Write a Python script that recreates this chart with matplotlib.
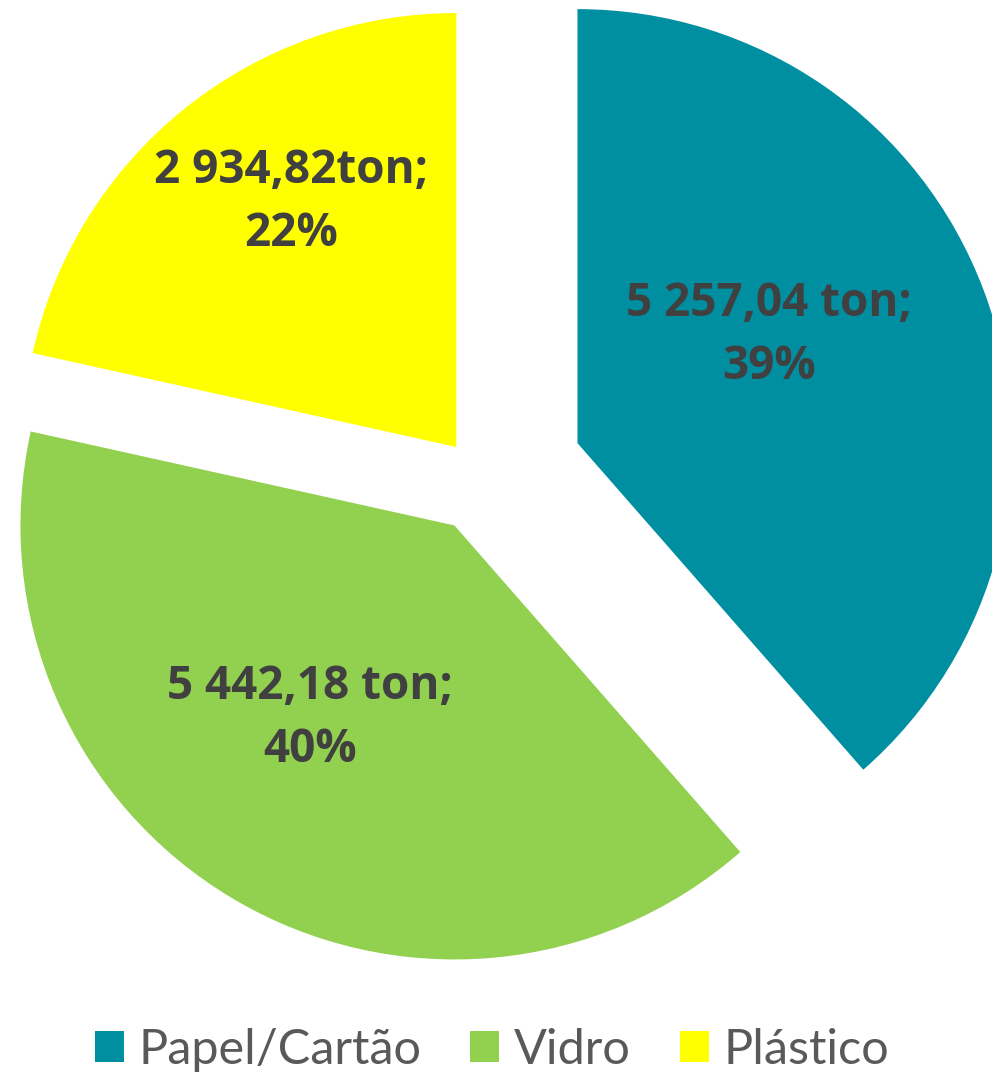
import numpy as np
import matplotlib.pyplot as plt
from matplotlib.patches import Patch

# dados
categorias = ["Papel/Cartão", "Vidro", "Plástico"]
toneladas = [5257.04, 5442.18, 2934.82]
rotulos_ton = ["5 257,04 ton;", "5 442,18 ton;", "2 934,82ton;"]
percentagens = ["39%", "40%", "22%"]

cores = ["#008FA1", "#92D050", "#FFFF00"]
explode = [102, 54, 41]  # em pixeis (unidades de dados)
# ajuste do rotulo: (fracao do raio, desvio do angulo em graus)
pos_rotulos = [(0.507, 8.8), (0.555, -6.2), (0.68, -4.8)]

W, H = 992, 1074
fig = plt.figure(figsize=(W / 100, H / 100), dpi=100)
ax = fig.add_axes([0, 0, 1, 1])

R = 434
wedges, _ = ax.pie(toneladas, colors=cores, startangle=90, counterclock=False,
                   radius=R, center=(482, H - 479), explode=explode,
                   wedgeprops=dict(linewidth=0))
ax.set_xlim(0, W)
ax.set_ylim(0, H)
ax.set_aspect("equal")
ax.axis("off")

for w, t, p, (frac, da) in zip(wedges, rotulos_ton, percentagens, pos_rotulos):
    ang = np.deg2rad((w.theta1 + w.theta2) / 2 + da)
    cx, cy = w.center
    x = cx + R * frac * np.cos(ang)
    y = cy + R * frac * np.sin(ang)
    ax.text(x, y, t + "\n" + p, ha="center", va="center", fontsize=33,
            fontweight="bold", family="Open Sans", color="#404040", linespacing=1.45)

handles = [Patch(facecolor=c, edgecolor="none") for c in cores]
fig.legend(handles, categorias, loc="center", bbox_to_anchor=(492 / W, 1 - 1050 / H),
           ncol=3, frameon=False, prop=dict(family="Lato", size=35),
           handlelength=0.6, handleheight=0.6, handletextpad=0.3, columnspacing=1.0,
           labelcolor="#595959")

fig.savefig("out.png", dpi=100)
